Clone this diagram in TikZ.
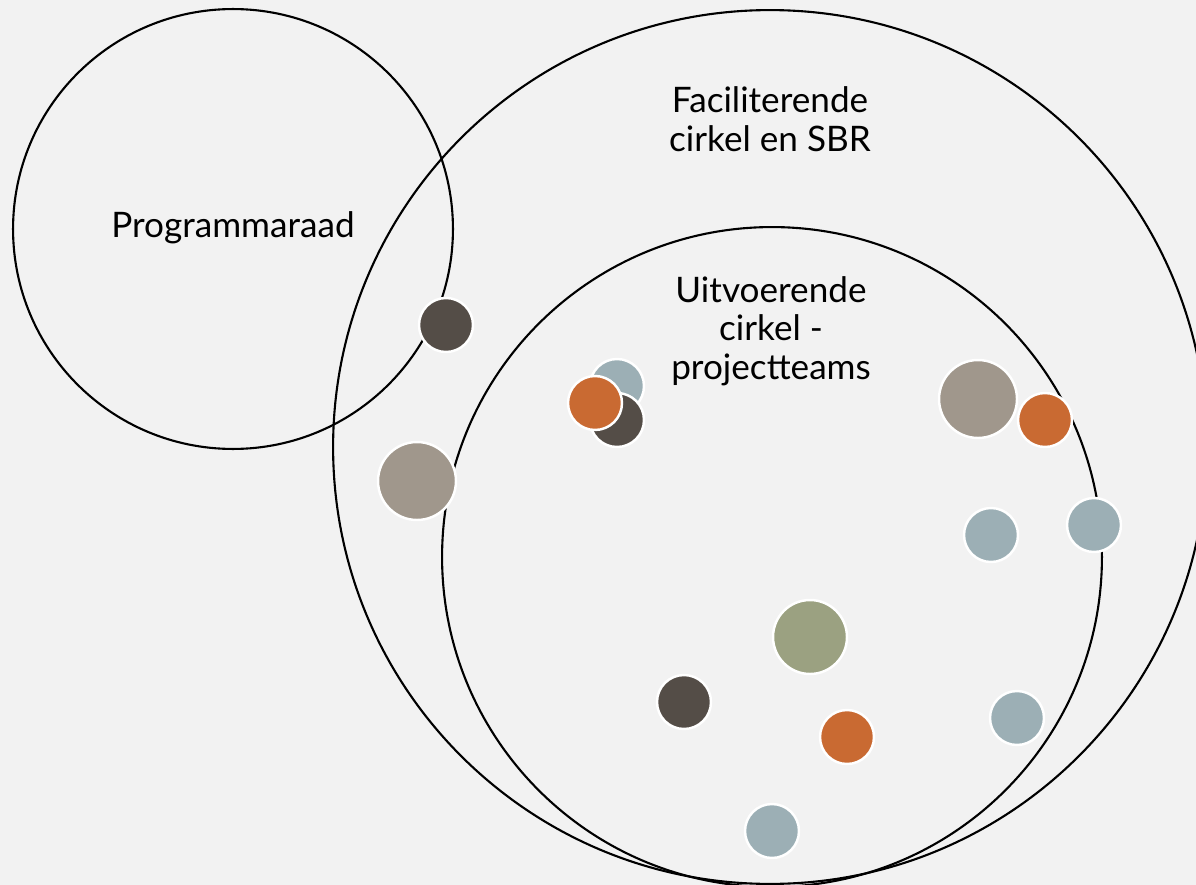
\documentclass[tikz,border=0pt]{standalone}
\usepackage{fontspec}
\setmainfont{Lato}
\usepackage{xcolor}
\definecolor{bg}{HTML}{F2F2F2}
\definecolor{dotdark}{HTML}{544D47}
\definecolor{dottaupe}{HTML}{A0978C}
\definecolor{dotblue}{HTML}{9CAFB5}
\definecolor{dotorange}{HTML}{C96A32}
\definecolor{dotgreen}{HTML}{9BA181}

\begin{document}
\begin{tikzpicture}[x=0.02cm,y=-0.02cm,
  ring/.style={draw=black,line width=1.2pt},
  lbl/.style={font=\fontsize{20}{22}\selectfont,align=center,inner sep=0},
  dot/.style={circle,draw=white,line width=1.4pt,inner sep=0,minimum size=1.08cm},
  bigdot/.style={dot,minimum size=1.56cm}]
\fill[bg] (0,0) rectangle (1196,885);
\clip (0,0) rectangle (1196,885);
\useasboundingbox (0,0) rectangle (1196,885);
% circles
\coordinate (raad) at (233,229);
\coordinate (facil) at (770,447);
\coordinate (uitv) at (772,557);
\draw[ring] (raad) circle[radius=4.4cm];
\draw[ring] (facil) circle[radius=8.74cm];
\draw[ring] (uitv) circle[radius=6.6cm];
\node[lbl] (raadtxt) at (233,228) {Programmaraad};
\node[lbl] (faciltxt) at (770,119) {Faciliterende\\cirkel en SBR};
\node[lbl] (uitvtxt) at (771,331) {Uitvoerende\\cirkel -\\projectteams};
% dots
\node[dot,fill=dotdark] (d1) at (446,325) {};
\node[bigdot,fill=dottaupe] (t1) at (417,481) {};
\node[dot,fill=dotblue] (b1) at (617,386) {};
\node[dot,fill=dotdark] (d2) at (617,420) {};
\node[dot,fill=dotorange] (o1) at (595,403) {};
\node[bigdot,fill=dottaupe] (t2) at (978,399) {};
\node[dot,fill=dotorange] (o2) at (1045,420) {};
\node[dot,fill=dotblue] (b2) at (991,535) {};
\node[dot,fill=dotblue] (b3) at (1094,525) {};
\node[bigdot,fill=dotgreen,minimum size=1.48cm] (g1) at (810,637) {};
\node[dot,fill=dotdark] (d3) at (684,702) {};
\node[dot,fill=dotorange] (o3) at (847,737) {};
\node[dot,fill=dotblue] (b4) at (1017,718) {};
\node[dot,fill=dotblue] (b5) at (772,831) {};
\end{tikzpicture}
\end{document}
